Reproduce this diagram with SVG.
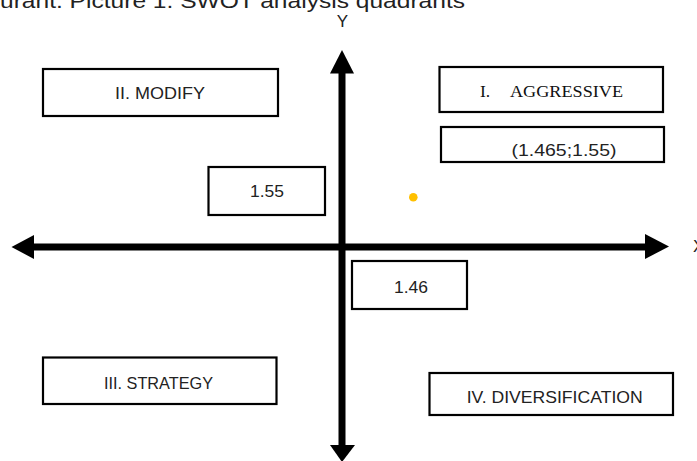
<svg xmlns="http://www.w3.org/2000/svg" width="697" height="461" viewBox="0 0 697 461">
<style>
.box{fill:#fff;stroke:#000;stroke-width:2.2}
.lbl{font-family:"Liberation Sans",Arial,sans-serif;font-size:17px;fill:#222;text-anchor:middle}
.ser{font-family:"Liberation Serif","Times New Roman",serif;font-size:17.5px;fill:#111}
.axis{stroke:#000;stroke-width:7;fill:none}
.head{fill:#000}
</style>
<rect width="697" height="461" fill="#fff"/>
<text x="0" y="8" font-family="Liberation Sans,Arial,sans-serif" font-size="21" fill="#222" textLength="465" lengthAdjust="spacingAndGlyphs">urant. Picture 1. SWOT analysis quadrants</text>
<text x="342.5" y="26.5" class="lbl">Y</text>
<text x="693" y="252" class="lbl" style="text-anchor:start">X</text>
<g id="connectors">
<line class="axis" x1="33" y1="247" x2="646" y2="247"/>
<line class="axis" x1="342" y1="72" x2="342" y2="446"/>
<polygon class="head" points="11.5,247 34,235 34,259"/>
<polygon class="head" points="669,246.5 645,234 645,259"/>
<polygon class="head" points="342,50 330,73.5 354,73.5"/>
<polygon class="head" points="342,462 330,445 355,445"/>
</g>
<g id="modify">
<rect class="box" x="43" y="69" width="235" height="47"/>
<text x="160" y="99" class="lbl" textLength="90" lengthAdjust="spacingAndGlyphs">II. MODIFY</text>
</g>
<g id="aggressive">
<rect class="box" x="439.5" y="67" width="223.5" height="45"/>
<text y="97" class="ser"><tspan x="480">I.</tspan><tspan x="510" textLength="113" lengthAdjust="spacingAndGlyphs">AGGRESSIVE</tspan></text>
</g>
<g id="point-label">
<rect class="box" x="441" y="127" width="223" height="35"/>
<text x="564" y="156" class="lbl" textLength="105" lengthAdjust="spacingAndGlyphs">(1.465;1.55)</text>
</g>
<g id="y-value">
<rect class="box" x="208.5" y="167" width="116.5" height="48"/>
<text x="267" y="197" class="lbl" textLength="34" lengthAdjust="spacingAndGlyphs">1.55</text>
</g>
<g id="x-value">
<rect class="box" x="352" y="261" width="115" height="48"/>
<text x="411" y="292.5" class="lbl" textLength="34" lengthAdjust="spacingAndGlyphs">1.46</text>
</g>
<g id="strategy">
<rect class="box" x="43" y="357.5" width="233.5" height="46.5"/>
<text x="158.5" y="389" class="lbl" textLength="109" lengthAdjust="spacingAndGlyphs">III. STRATEGY</text>
</g>
<g id="diversification">
<rect class="box" x="429.5" y="373" width="243.5" height="42"/>
<text x="554.7" y="402.5" class="lbl" textLength="176" lengthAdjust="spacingAndGlyphs">IV. DIVERSIFICATION</text>
</g>
<g id="point">
<circle cx="413.3" cy="197.3" r="4.3" fill="#FFC000"/>
</g>
</svg>
